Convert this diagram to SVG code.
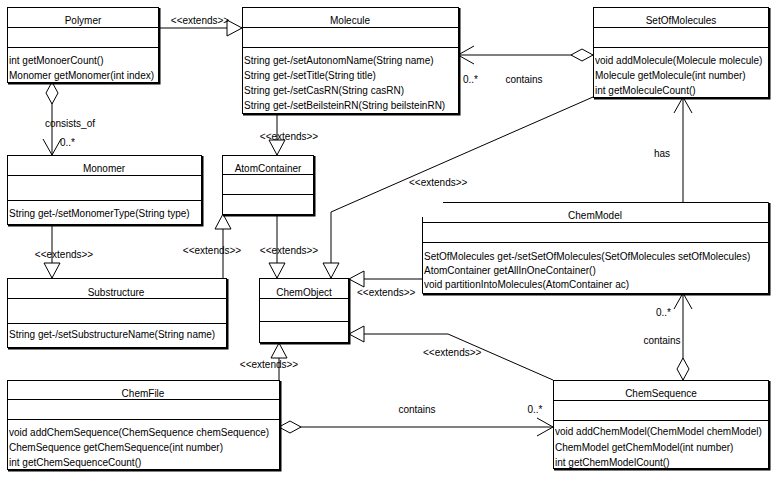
<svg xmlns="http://www.w3.org/2000/svg" width="777" height="478" viewBox="0 0 777 478">
<style>
text{font-family:"Liberation Sans",Arial,sans-serif;font-size:10px;fill:#000}
.c{text-anchor:middle}
.box{fill:#fff;stroke:#000;stroke-width:1}
.sh{fill:none;stroke:#000;stroke-width:2}
.sep{stroke:#000;stroke-width:1}
.ln{fill:none;stroke:#000;stroke-width:1}
.ext{marker-end:url(#tri)}
.agg{marker-start:url(#dia);marker-end:url(#arr)}
.nav{marker-end:url(#arr)}
</style>
<defs>
<marker id="tri" markerUnits="userSpaceOnUse" markerWidth="17" markerHeight="18" refX="15" refY="8" orient="auto" overflow="visible">
<path d="M0,0 L15,8 L0,16 Z" fill="#fff" stroke="#000" stroke-width="1"/>
</marker>
<marker id="arr" markerUnits="userSpaceOnUse" markerWidth="17" markerHeight="20" refX="16" refY="9" orient="auto" overflow="visible">
<path d="M0,0 L16,9 L0,18" fill="none" stroke="#000" stroke-width="1"/>
</marker>
<marker id="dia" markerUnits="userSpaceOnUse" markerWidth="24" markerHeight="14" refX="0" refY="6" orient="auto" overflow="visible">
<path d="M0,6 L11,0 L22,6 L11,12 Z" fill="#fff" stroke="#000" stroke-width="1"/>
</marker>
</defs>
<rect width="777" height="478" fill="#fff"/>

<g id="connectors">
<path class="ln ext" d="M158,28 L242,28"/>
<text class="c" x="200" y="24">&lt;&lt;extends&gt;&gt;</text>
<path class="ln ext" d="M277,113 L277,155"/>
<text class="c" x="289" y="140">&lt;&lt;extends&gt;&gt;</text>
<path class="ln agg" d="M52,82 L52,155"/>
<text x="45" y="127">consists_of</text>
<text x="60" y="146">0..*</text>
<path class="ln ext" d="M52,224 L52,278"/>
<text class="c" x="64" y="258">&lt;&lt;extends&gt;&gt;</text>
<path class="ln ext" d="M223,278 L223,214"/>
<text class="c" x="212" y="254">&lt;&lt;extends&gt;&gt;</text>
<path class="ln ext" d="M277,214 L277,278"/>
<text class="c" x="289" y="254">&lt;&lt;extends&gt;&gt;</text>
<path class="ln ext" d="M593,97 L331,212 L331,278"/>
<text x="409" y="186">&lt;&lt;extends&gt;&gt;</text>
<path class="ln ext" d="M422,279 L349,279"/>
<text x="357" y="296">&lt;&lt;extends&gt;&gt;</text>
<path class="ln ext" d="M553,380 L448,334 L349,334"/>
<text x="423" y="356">&lt;&lt;extends&gt;&gt;</text>
<path class="ln ext" d="M279,380 L279,343"/>
<text class="c" x="269" y="368">&lt;&lt;extends&gt;&gt;</text>
<path class="ln agg" d="M593,55 L458,55"/>
<text x="463" y="83">0..*</text>
<text class="c" x="524" y="83">contains</text>
<path class="ln nav" d="M683,202 L683,97"/>
<text class="c" x="662" y="157">has</text>
<path class="ln agg" d="M683,380 L683,293"/>
<text x="656" y="316">0..*</text>
<text class="c" x="662" y="344">contains</text>
<path class="ln agg" d="M279,427 L553,427"/>
<text class="c" x="417" y="413">contains</text>
<text class="c" x="535" y="413">0..*</text>
</g>

<g id="Polymer">
<rect class="box" x="7.5" y="7.5" width="151" height="75"/>
<path class="sh" d="M159.5,8 V83.5 H8"/>
<path class="sep" d="M7.5,27.5 H158.5 M7.5,47.5 H158.5"/>
<text class="c" x="83" y="24">Polymer</text>
<text x="9" y="64">int getMonoerCount()</text>
<text x="9" y="79">Monomer getMonomer(int index)</text>
</g>

<g id="Molecule">
<rect class="box" x="242.5" y="7.5" width="216" height="106"/>
<path class="sh" d="M459.5,8 V114.5 H243"/>
<path class="sep" d="M242.5,27.5 H458.5 M242.5,47.5 H458.5"/>
<text class="c" x="350" y="24">Molecule</text>
<text x="244" y="64">String get-/setAutonomName(String name)</text>
<text x="244" y="79">String get-/setTitle(String title)</text>
<text x="244" y="94">String get-/setCasRN(String casRN)</text>
<text x="244" y="109">String get-/setBeilsteinRN(String beilsteinRN)</text>
</g>

<g id="SetOfMolecules">
<rect class="box" x="593.5" y="7.5" width="175" height="90"/>
<path class="sh" d="M769.5,8 V98.5 H594"/>
<path class="sep" d="M593.5,27.5 H768.5 M593.5,47.5 H768.5"/>
<text class="c" x="681" y="24">SetOfMolecules</text>
<text x="595" y="64">void addMolecule(Molecule molecule)</text>
<text x="595" y="79">Molecule getMolecule(int number)</text>
<text x="595" y="94">int getMoleculeCount()</text>
</g>

<g id="Monomer">
<rect class="box" x="7.5" y="155.5" width="194" height="69"/>
<path class="sh" d="M202.5,156 V225.5 H8"/>
<path class="sep" d="M7.5,175.5 H201.5 M7.5,200.5 H201.5"/>
<text class="c" x="104" y="172">Monomer</text>
<text x="9" y="217">String get-/setMonomerType(String type)</text>
</g>

<g id="AtomContainer">
<rect class="box" x="222.5" y="155.5" width="91" height="59"/>
<path class="sh" d="M314.5,156 V215.5 H223"/>
<path class="sep" d="M222.5,174.5 H313.5 M222.5,194.5 H313.5"/>
<text class="c" x="268" y="172">AtomContainer</text>
</g>

<g id="Substructure">
<rect class="box" x="7.5" y="278.5" width="219" height="69"/>
<path class="sh" d="M227.5,279 V348.5 H8"/>
<path class="sep" d="M7.5,298.5 H226.5 M7.5,323.5 H226.5"/>
<text class="c" x="116" y="296">Substructure</text>
<text x="9" y="338">String get-/setSubstructureName(String name)</text>
</g>

<g id="ChemObject">
<rect class="box" x="259.5" y="278.5" width="89" height="64"/>
<path class="sh" d="M349.5,279 V343.5 H260"/>
<path class="sep" d="M259.5,298.5 H348.5 M259.5,321.5 H348.5"/>
<text class="c" x="304" y="296">ChemObject</text>
</g>

<g id="ChemModel">
<rect x="422.5" y="202.5" width="346" height="91" fill="#fff"/>
<path class="ln" d="M443,202.5 H768.5 V293.5 H422.5 V217"/>
<path class="sh" d="M769.5,203 V294.5 H423"/>
<path class="sep" d="M422.5,222.5 H768.5 M422.5,242.5 H768.5"/>
<text class="c" x="595" y="219">ChemModel</text>
<text x="424" y="260">SetOfMolecules get-/setSetOfMolecules(SetOfMolecules setOfMolecules)</text>
<text x="424" y="274">AtomContainer getAllInOneContainer()</text>
<text x="424" y="288">void partitionIntoMolecules(AtomContainer ac)</text>
</g>

<g id="ChemFile">
<rect class="box" x="7.5" y="380.5" width="272" height="89"/>
<path class="sh" d="M280.5,381 V470.5 H8"/>
<path class="sep" d="M7.5,399.5 H279.5 M7.5,419.5 H279.5"/>
<text class="c" x="143" y="397">ChemFile</text>
<text x="9" y="436">void addChemSequence(ChemSequence chemSequence)</text>
<text x="9" y="451">ChemSequence getChemSequence(int number)</text>
<text x="9" y="466">int getChemSequenceCount()</text>
</g>

<g id="ChemSequence">
<rect class="box" x="553.5" y="380.5" width="215" height="88"/>
<path class="sh" d="M769.5,381 V469.5 H554"/>
<path class="sep" d="M553.5,400.5 H768.5 M553.5,420.5 H768.5"/>
<text class="c" x="661" y="397">ChemSequence</text>
<text x="555" y="435">void addChemModel(ChemModel chemModel)</text>
<text x="555" y="451">ChemModel getChemModel(int number)</text>
<text x="555" y="466">int getChemModelCount()</text>
</g>
</svg>
